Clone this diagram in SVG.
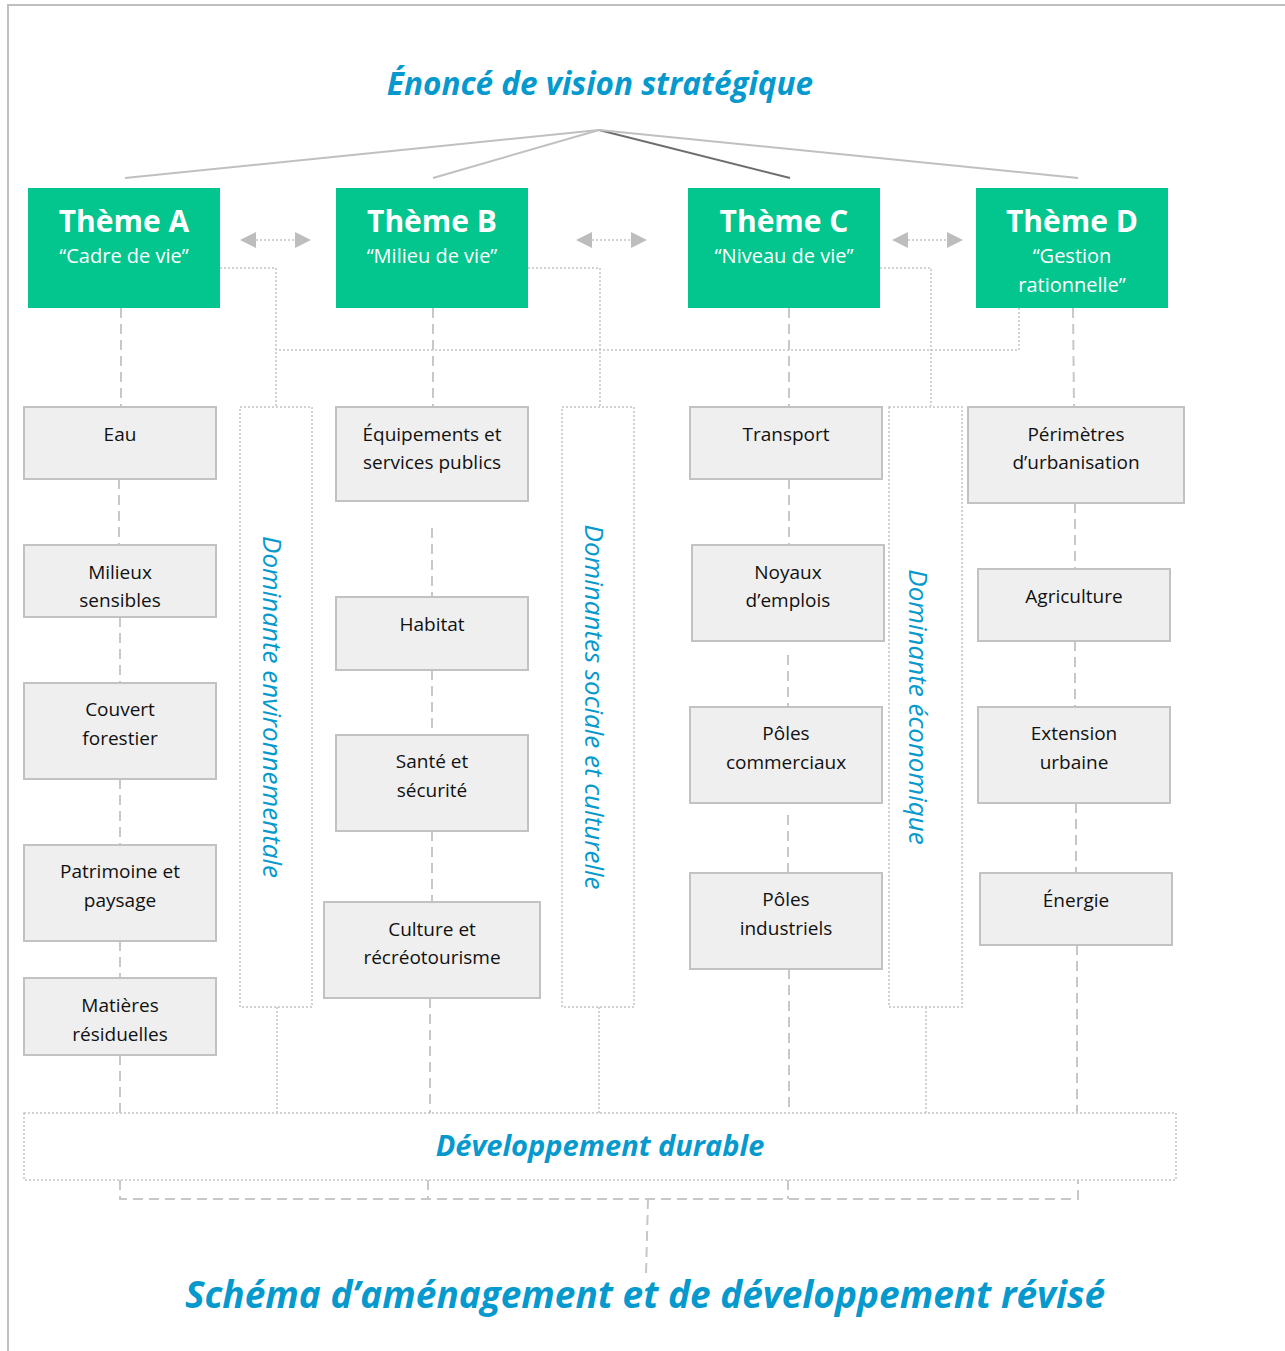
<svg xmlns="http://www.w3.org/2000/svg" width="1285" height="1351" viewBox="0 0 1285 1351">
<style>
.title{font-family:"Open Sans","Noto Sans",sans-serif;font-weight:bold;font-style:italic;fill:#0599cd;text-anchor:middle}
.theme{fill:#02c68d}
.tht{font-family:"Open Sans","Noto Sans",sans-serif;font-weight:bold;fill:#fff;font-size:30px;text-anchor:middle}
.ths{font-family:"Open Sans","Noto Sans",sans-serif;fill:#fff;font-size:20px;text-anchor:middle}
.item{fill:#efefef;stroke:#c2c2c2;stroke-width:2}
.it{font-family:"Open Sans","Noto Sans",sans-serif;fill:#111;font-size:19px;text-anchor:middle}
.dom{fill:none;stroke:#c4c4c4;stroke-width:1.5;stroke-dasharray:2 2}
.domt{font-family:"Open Sans","Noto Sans",sans-serif;font-style:italic;fill:#0599cd;font-size:26px;text-anchor:middle}
.dot{fill:none;stroke:#c4c4c4;stroke-width:1.5;stroke-dasharray:2 2}
.dash{fill:none;stroke:#c8c8c8;stroke-width:2;stroke-dasharray:10 6}
.ray{stroke:#c0c0c0;stroke-width:2}
.ray-dark{stroke:#6e6e6e;stroke-width:2}
.tri{fill:#bdbdbd}
</style>
<defs>
<g id="dbl">
<polygon class="tri" points="0,0 16,-8 16,8"/>
<polygon class="tri" points="71,0 55,-8 55,8"/>
<line class="dot" x1="16" y1="0" x2="55" y2="0"/>
</g>
</defs>
<rect x="0" y="0" width="1285" height="1351" fill="#fff"/>
<path d="M8,1351 V5 H1285" fill="none" stroke="#c0c0c0" stroke-width="2"/>

<text class="title" x="600" y="95" font-size="31.5">Énoncé de vision stratégique</text>

<g id="connectors">
<line class="ray" x1="599" y1="130" x2="125" y2="178"/>
<line class="ray" x1="599" y1="130" x2="433" y2="178"/>
<line class="ray-dark" x1="599" y1="130" x2="790" y2="178"/>
<line class="ray" x1="599" y1="130" x2="1078" y2="178"/>
<use href="#dbl" x="240" y="240"/>
<use href="#dbl" x="576" y="240"/>
<use href="#dbl" x="892" y="240"/>
<path class="dot" d="M220,268 H276 V406"/>
<path class="dot" d="M528,268 H600 V406"/>
<path class="dot" d="M880,268 H931 V406"/>
<path class="dot" d="M1019,308 V350 H276"/>
<path class="dot" d="M277,1007 V1113"/>
<path class="dot" d="M599,1007 V1113"/>
<path class="dot" d="M926,1007 V1113"/>
<line class="dash" x1="121" y1="308" x2="121" y2="407"/>
<line class="dash" x1="119" y1="479" x2="119" y2="545"/>
<line class="dash" x1="120" y1="617" x2="120" y2="683"/>
<line class="dash" x1="120" y1="779" x2="120" y2="845"/>
<line class="dash" x1="120" y1="941" x2="120" y2="978"/>
<line class="dash" x1="120" y1="1055" x2="120" y2="1113"/>
<line class="dash" x1="433" y1="308" x2="433" y2="407"/>
<line class="dash" x1="432" y1="528" x2="432" y2="597"/>
<line class="dash" x1="432" y1="670" x2="432" y2="735"/>
<line class="dash" x1="432" y1="831" x2="432" y2="902"/>
<line class="dash" x1="430" y1="998" x2="430" y2="1113"/>
<line class="dash" x1="789" y1="308" x2="789" y2="407"/>
<line class="dash" x1="789" y1="479" x2="789" y2="545"/>
<line class="dash" x1="788" y1="655" x2="788" y2="707"/>
<line class="dash" x1="788" y1="815" x2="788" y2="873"/>
<line class="dash" x1="789" y1="969" x2="789" y2="1113"/>
<line class="dash" x1="1073" y1="308" x2="1074" y2="407"/>
<line class="dash" x1="1075" y1="503" x2="1075" y2="569"/>
<line class="dash" x1="1075" y1="641" x2="1075" y2="707"/>
<line class="dash" x1="1076" y1="803" x2="1076" y2="873"/>
<line class="dash" x1="1077" y1="945" x2="1077" y2="1113"/>
<path class="dash" d="M120,1180 V1199 H1078 V1180"/>
<line class="dash" x1="428" y1="1180" x2="428" y2="1199"/>
<line class="dash" x1="788" y1="1180" x2="788" y2="1199"/>
<line class="dash" x1="648" y1="1199" x2="646" y2="1274"/>
</g>

<g id="themeA"><rect class="theme" x="28" y="188" width="192" height="120"/><text class="tht" x="124" y="232">Thème A</text><text class="ths" x="124" y="263">“Cadre de vie”</text></g>
<g id="themeB"><rect class="theme" x="336" y="188" width="192" height="120"/><text class="tht" x="432" y="232">Thème B</text><text class="ths" x="432" y="263">“Milieu de vie”</text></g>
<g id="themeC"><rect class="theme" x="688" y="188" width="192" height="120"/><text class="tht" x="784" y="232">Thème C</text><text class="ths" x="784" y="263">“Niveau de vie”</text></g>
<g id="themeD"><rect class="theme" x="976" y="188" width="192" height="120"/><text class="tht" x="1072" y="232">Thème D</text><text class="ths" x="1072" y="263">“Gestion</text><text class="ths" x="1072" y="292">rationnelle”</text></g>

<g id="domEnv"><rect class="dom" x="240" y="407" width="72" height="600"/><text class="domt" transform="translate(272,707) rotate(90)" x="0" y="9">Dominante environnementale</text></g>
<g id="domSoc"><rect class="dom" x="562" y="407" width="72" height="600"/><text class="domt" transform="translate(594,707) rotate(90)" x="0" y="9">Dominantes sociale et culturelle</text></g>
<g id="domEco"><rect class="dom" x="889" y="407" width="73" height="600"/><text class="domt" transform="translate(918,707) rotate(90)" x="0" y="9">Dominante économique</text></g>

<g id="eau"><rect class="item" x="24" y="407" width="192" height="72"/><text class="it" x="120" y="441">Eau</text></g>
<g id="milieux"><rect class="item" x="24" y="545" width="192" height="72"/><text class="it" x="120" y="579">Milieux</text><text class="it" x="120" y="607">sensibles</text></g>
<g id="couvert"><rect class="item" x="24" y="683" width="192" height="96"/><text class="it" x="120" y="716">Couvert</text><text class="it" x="120" y="745">forestier</text></g>
<g id="patrimoine"><rect class="item" x="24" y="845" width="192" height="96"/><text class="it" x="120" y="878">Patrimoine et</text><text class="it" x="120" y="907">paysage</text></g>
<g id="matieres"><rect class="item" x="24" y="978" width="192" height="77"/><text class="it" x="120" y="1012">Matières</text><text class="it" x="120" y="1041">résiduelles</text></g>

<g id="equipements"><rect class="item" x="336" y="407" width="192" height="94"/><text class="it" x="432" y="441">Équipements et</text><text class="it" x="432" y="469">services publics</text></g>
<g id="habitat"><rect class="item" x="336" y="597" width="192" height="73"/><text class="it" x="432" y="631">Habitat</text></g>
<g id="sante"><rect class="item" x="336" y="735" width="192" height="96"/><text class="it" x="432" y="768">Santé et</text><text class="it" x="432" y="797">sécurité</text></g>
<g id="culture"><rect class="item" x="324" y="902" width="216" height="96"/><text class="it" x="432" y="936">Culture et</text><text class="it" x="432" y="964">récréotourisme</text></g>

<g id="transport"><rect class="item" x="690" y="407" width="192" height="72"/><text class="it" x="786" y="441">Transport</text></g>
<g id="noyaux"><rect class="item" x="692" y="545" width="192" height="96"/><text class="it" x="788" y="579">Noyaux</text><text class="it" x="788" y="607">d’emplois</text></g>
<g id="polesc"><rect class="item" x="690" y="707" width="192" height="96"/><text class="it" x="786" y="740">Pôles</text><text class="it" x="786" y="769">commerciaux</text></g>
<g id="polesi"><rect class="item" x="690" y="873" width="192" height="96"/><text class="it" x="786" y="906">Pôles</text><text class="it" x="786" y="935">industriels</text></g>

<g id="perimetres"><rect class="item" x="968" y="407" width="216" height="96"/><text class="it" x="1076" y="441">Périmètres</text><text class="it" x="1076" y="469">d’urbanisation</text></g>
<g id="agriculture"><rect class="item" x="978" y="569" width="192" height="72"/><text class="it" x="1074" y="603">Agriculture</text></g>
<g id="extension"><rect class="item" x="978" y="707" width="192" height="96"/><text class="it" x="1074" y="740">Extension</text><text class="it" x="1074" y="769">urbaine</text></g>
<g id="energie"><rect class="item" x="980" y="873" width="192" height="72"/><text class="it" x="1076" y="907">Énergie</text></g>

<g id="devdurable"><rect class="dot" x="24" y="1113" width="1152" height="67"/><text class="title" x="600" y="1156" font-size="29">Développement durable</text></g>

<text class="title" x="645" y="1308" font-size="37">Schéma d’aménagement et de développement révisé</text>
</svg>
